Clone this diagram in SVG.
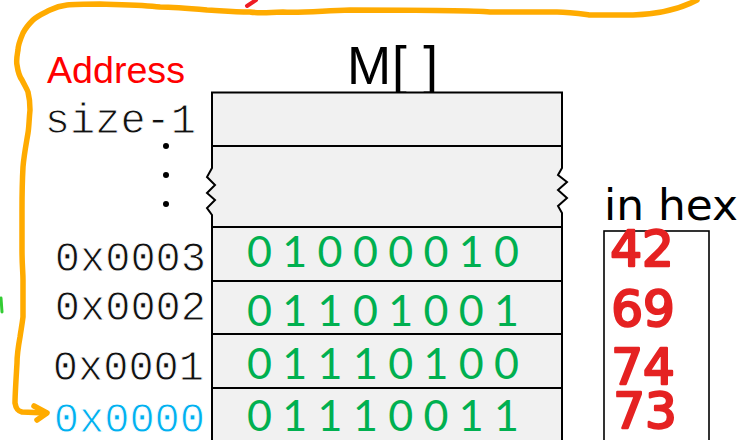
<svg xmlns="http://www.w3.org/2000/svg" width="743" height="440" viewBox="0 0 743 440">
  <style>
    .cell { fill: #f1f1f1; stroke: #000; stroke-width: 2; }
    .edge { fill: none; stroke: #000; stroke-width: 2; stroke-linejoin: miter; }
    .addr { font-family: "Liberation Mono", "Courier New", monospace; font-size: 42px; fill: #111; text-anchor: end; stroke: #fff; stroke-width: 0.9; }
    .bits { font-family: Lato, "Liberation Sans", sans-serif; font-size: 43px; fill: #00b050; text-anchor: middle; }
    .hex  { font-family: "DejaVu Sans", sans-serif; font-size: 50px; fill: #e52222; stroke: #e52222; stroke-width: 2.4; stroke-linejoin: round; text-anchor: middle; }
    .ink  { fill: none; stroke: #ffab00; stroke-width: 5.5; stroke-linecap: round; stroke-linejoin: round; }
  </style>

  <!-- handwritten orange bracket with arrow to the base address -->
  <g id="connectors">
    <path class="ink" d="M697,0 C680,9 660,14 633,15 L590,15 C575,13 568,12 557,12 L490,12 C470,10 420,10 350,10 C320,11 300,13 283,12 C265,13 255,13 250,12 C230,12 215,10 207,10 C185,8 170,7 160,7 C145,5 135,5 100,4 C85,4 75,4 67,5 C58,6 54,8 50,10 C42,14 37,16 33,20 C27,26 25,29 23,33 C20,40 18,45 18,50 C17,56 16,60 17,65 C18,72 19,76 22,80 C25,86 27,89 28,92 C30,100 30,105 30,110 C29,120 29,127 28,133 C26,145 24,155 23,167 C22,185 22,200 22,210 L22,250 C22,265 23,272 23,280 L23,317 C22,325 21,330 20,337 C18,348 17,355 17,363 C16,380 15,395 15,403 C16,409 18,411 22,412 L46,413"/>
    <path class="ink" d="M34,406 L47,413 L37,420"/>
  </g>

  <!-- stray pen marks at the edges -->
  <g id="marks">
    <path d="M256,0 L247,6" fill="none" stroke="#ee1c24" stroke-width="4" stroke-linecap="round"/>
    <path d="M1,298 L2,312" fill="none" stroke="#33cc33" stroke-width="3" stroke-linecap="round"/>
  </g>

  <g id="title">
    <text x="47" y="83" font-family="Liberation Sans, Arial, sans-serif" font-size="36" fill="#ff0000" textLength="138" lengthAdjust="spacingAndGlyphs">Address</text>
    <text x="347" y="84" font-family="Liberation Sans, Arial, sans-serif" font-size="53" fill="#000" textLength="91" lengthAdjust="spacing">M[ ]</text>
  </g>

  <!-- top cell: size-1 -->
  <g id="cell-top">
    <rect class="cell" x="212" y="92.5" width="350" height="53.5"/>
    <text class="addr" x="196" y="133">size-1</text>
  </g>

  <!-- elided middle region -->
  <g id="cell-gap">
    <path d="M212,146 L562,146 L562,168 L558,175 L567,182 L558,190 L567,198 L558,206 L562,213 L562,227 L212,227 L212,215 L207,208 L215,200 L207,193 L215,185 L207,177 L212,168 Z" fill="#f1f1f1" stroke="none"/>
    <path class="edge" d="M212,146 L562,146 M562,146 L562,168 L558,175 L567,182 L558,190 L567,198 L558,206 L562,213 L562,227 M212,146 L212,168 L207,177 L215,185 L207,193 L215,200 L207,208 L212,215 L212,227"/>
    <circle cx="166" cy="146" r="3" fill="#000"/>
    <circle cx="166" cy="175" r="3" fill="#000"/>
    <circle cx="166" cy="204" r="3" fill="#000"/>
  </g>

  <g id="cell-3">
    <rect class="cell" x="212" y="227" width="350" height="54"/>
    <text class="bits" y="267" x="259.5 294.8 330.1 365.4 400.7 436 471.3 506.6">01000010</text>
    <text class="addr" x="206" y="271">0x0003</text>
  </g>

  <g id="cell-2">
    <rect class="cell" x="212" y="281" width="350" height="53"/>
    <text class="bits" y="326" x="259.5 294.8 330.1 365.4 400.7 436 471.3 506.6">01101001</text>
    <text class="addr" x="206" y="320">0x0002</text>
  </g>

  <g id="cell-1">
    <rect class="cell" x="212" y="334" width="350" height="54"/>
    <text class="bits" y="379" x="259.5 294.8 330.1 365.4 400.7 436 471.3 506.6">01110100</text>
    <text class="addr" x="204" y="380">0x0001</text>
  </g>

  <g id="cell-0">
    <rect class="cell" x="212" y="388" width="350" height="54"/>
    <text class="bits" y="431" x="259.5 294.8 330.1 365.4 400.7 436 471.3 506.6">01110011</text>
    <text class="addr" x="205" y="432" style="fill:#00b0f0">0x0000</text>
  </g>

  <!-- hex column -->
  <g id="hex">
    <text x="604" y="220" font-family="DejaVu Sans, sans-serif" font-size="42" fill="#000" textLength="134" lengthAdjust="spacingAndGlyphs">in hex</text>
    <rect x="604" y="231" width="105" height="215" fill="none" stroke="#000" stroke-width="1.6"/>
    <text class="hex" x="642" y="266">42</text>
    <text class="hex" x="643" y="326">69</text>
    <text class="hex" x="643" y="384">74</text>
    <text class="hex" x="645" y="428">73</text>
  </g>
</svg>
